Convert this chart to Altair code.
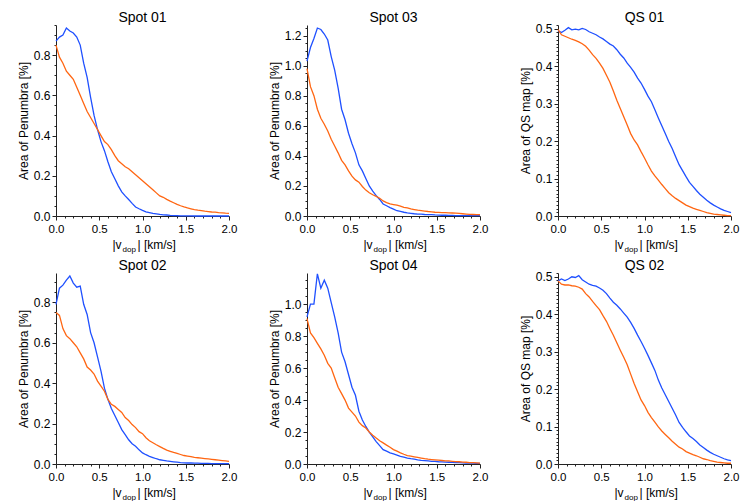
import altair as alt
import pandas as pd

# velocity bins |v_dop| [km/s]
V = [0.00, 0.04, 0.08, 0.12, 0.16, 0.20, 0.24, 0.28, 0.32, 0.36,
     0.40, 0.44, 0.48, 0.52, 0.56, 0.60, 0.64, 0.68, 0.72, 0.76,
     0.80, 0.84, 0.88, 0.92, 0.96, 1.00, 1.04, 1.08, 1.12, 1.16,
     1.20, 1.24, 1.28, 1.32, 1.36, 1.40, 1.44, 1.48, 1.52, 1.56,
     1.60, 1.64, 1.68, 1.72, 1.76, 1.80, 1.84, 1.88, 1.92, 1.96, 2.00]

spot01_blue = [0.87, 0.89, 0.90, 0.935, 0.92, 0.91, 0.89, 0.85, 0.76, 0.69,
               0.59, 0.50, 0.43, 0.37, 0.325, 0.27, 0.22, 0.185, 0.15, 0.12,
               0.10, 0.082, 0.063, 0.045, 0.036, 0.028, 0.021, 0.017, 0.013, 0.011,
               0.008, 0.006, 0.005, 0.003, 0.002, 0.002, 0.001, 0.001, 0.001, 0.001,
               0.0, 0.0, 0.0, 0.0, 0.0, 0.0, 0.0, 0.0, 0.0, 0.0, 0.0]
spot01_orange = [0.85, 0.79, 0.76, 0.72, 0.70, 0.68, 0.64, 0.60, 0.56, 0.52,
                 0.49, 0.46, 0.43, 0.40, 0.37, 0.355, 0.33, 0.30, 0.275, 0.26,
                 0.245, 0.235, 0.22, 0.205, 0.19, 0.175, 0.16, 0.145, 0.13, 0.115,
                 0.10, 0.093, 0.083, 0.074, 0.066, 0.058, 0.051, 0.045, 0.040, 0.036,
                 0.032, 0.029, 0.027, 0.024, 0.022, 0.020, 0.019, 0.017, 0.016, 0.014, 0.013]

spot03_blue = [1.03, 1.12, 1.18, 1.25, 1.24, 1.21, 1.17, 1.06, 0.97, 0.85,
               0.71, 0.64, 0.55, 0.48, 0.42, 0.34, 0.30, 0.25, 0.20, 0.165,
               0.135, 0.11, 0.08, 0.068, 0.056, 0.046, 0.035, 0.030, 0.025, 0.021,
               0.018, 0.015, 0.013, 0.012, 0.010, 0.009, 0.009, 0.007, 0.006, 0.005,
               0.005, 0.004, 0.004, 0.003, 0.003, 0.003, 0.002, 0.002, 0.002, 0.002, 0.002]
spot03_orange = [0.98, 0.86, 0.80, 0.71, 0.65, 0.61, 0.565, 0.51, 0.465, 0.42,
                 0.37, 0.34, 0.30, 0.265, 0.24, 0.225, 0.196, 0.172, 0.155, 0.141,
                 0.13, 0.118, 0.10, 0.089, 0.08, 0.076, 0.072, 0.066, 0.058, 0.054,
                 0.047, 0.043, 0.039, 0.036, 0.033, 0.030, 0.028, 0.025, 0.024, 0.023,
                 0.022, 0.021, 0.020, 0.019, 0.017, 0.015, 0.013, 0.011, 0.010, 0.009, 0.009]

qs01_blue = [0.495, 0.49, 0.496, 0.503, 0.497, 0.499, 0.497, 0.501, 0.498, 0.492,
             0.488, 0.484, 0.478, 0.473, 0.466, 0.459, 0.454, 0.444, 0.432, 0.422,
             0.408, 0.397, 0.384, 0.368, 0.355, 0.338, 0.32, 0.305, 0.284, 0.262,
             0.241, 0.22, 0.199, 0.18, 0.158, 0.137, 0.121, 0.105, 0.09, 0.079,
             0.068, 0.058, 0.05, 0.042, 0.035, 0.029, 0.024, 0.019, 0.015, 0.012, 0.009]
qs01_orange = [0.498, 0.484, 0.48, 0.476, 0.472, 0.469, 0.465, 0.46, 0.453, 0.443,
               0.431, 0.421, 0.408, 0.394, 0.376, 0.357, 0.334, 0.309, 0.287, 0.265,
               0.243, 0.22, 0.203, 0.19, 0.172, 0.155, 0.137, 0.12, 0.107, 0.096,
               0.084, 0.073, 0.062, 0.054, 0.047, 0.041, 0.035, 0.029, 0.025, 0.021,
               0.018, 0.015, 0.012, 0.009, 0.007, 0.005, 0.004, 0.003, 0.002, 0.001, 0.001]

spot02_blue = [0.79, 0.87, 0.885, 0.91, 0.93, 0.895, 0.875, 0.88, 0.79, 0.74,
               0.65, 0.60, 0.53, 0.46, 0.375, 0.32, 0.275, 0.24, 0.205, 0.17,
               0.145, 0.12, 0.10, 0.088, 0.07, 0.055, 0.046, 0.038, 0.032, 0.026,
               0.021, 0.018, 0.015, 0.013, 0.011, 0.009, 0.007, 0.006, 0.005, 0.005,
               0.004, 0.004, 0.003, 0.003, 0.003, 0.002, 0.002, 0.002, 0.002, 0.002, 0.002]
spot02_orange = [0.75, 0.735, 0.67, 0.635, 0.62, 0.60, 0.58, 0.55, 0.52, 0.48,
                 0.465, 0.445, 0.41, 0.385, 0.36, 0.32, 0.295, 0.285, 0.27, 0.255,
                 0.23, 0.215, 0.195, 0.18, 0.16, 0.15, 0.13, 0.115, 0.105, 0.095,
                 0.086, 0.077, 0.069, 0.063, 0.057, 0.052, 0.047, 0.042, 0.039, 0.036,
                 0.033, 0.031, 0.029, 0.027, 0.025, 0.023, 0.021, 0.019, 0.017, 0.015, 0.013]

spot04_blue = [0.92, 1.00, 1.00, 1.19, 1.10, 1.15, 1.10, 1.01, 0.92, 0.82,
               0.70, 0.64, 0.56, 0.48, 0.43, 0.33, 0.275, 0.235, 0.20, 0.17,
               0.14, 0.115, 0.09, 0.08, 0.07, 0.063, 0.056, 0.048, 0.043, 0.037,
               0.033, 0.03, 0.026, 0.023, 0.021, 0.019, 0.017, 0.016, 0.014, 0.013,
               0.012, 0.011, 0.010, 0.009, 0.008, 0.007, 0.006, 0.006, 0.005, 0.004, 0.004]
spot04_orange = [0.91, 0.82, 0.79, 0.755, 0.72, 0.68, 0.63, 0.60, 0.54, 0.48,
                 0.44, 0.40, 0.35, 0.325, 0.30, 0.262, 0.24, 0.225, 0.20, 0.18,
                 0.162, 0.145, 0.132, 0.118, 0.105, 0.09, 0.08, 0.07, 0.061, 0.053,
                 0.049, 0.045, 0.041, 0.037, 0.033, 0.030, 0.028, 0.026, 0.024, 0.022,
                 0.020, 0.019, 0.017, 0.015, 0.014, 0.012, 0.011, 0.009, 0.008, 0.007, 0.006]

qs02_blue = [0.489, 0.494, 0.49, 0.494, 0.50, 0.498, 0.503, 0.492, 0.486, 0.48,
             0.477, 0.475, 0.47, 0.464, 0.455, 0.443, 0.432, 0.424, 0.414, 0.403,
             0.392, 0.378, 0.362, 0.344, 0.327, 0.309, 0.29, 0.27, 0.25, 0.224,
             0.203, 0.185, 0.167, 0.149, 0.131, 0.111, 0.098, 0.086, 0.075, 0.068,
             0.06, 0.051, 0.044, 0.037, 0.031, 0.026, 0.022, 0.018, 0.014, 0.011, 0.009]
qs02_orange = [0.489, 0.48, 0.478, 0.478, 0.476, 0.475, 0.472, 0.467, 0.455, 0.446,
               0.434, 0.423, 0.412, 0.396, 0.381, 0.362, 0.344, 0.324, 0.304, 0.285,
               0.265, 0.24, 0.215, 0.193, 0.171, 0.156, 0.138, 0.124, 0.112, 0.099,
               0.088, 0.079, 0.07, 0.061, 0.053, 0.045, 0.04, 0.033, 0.029, 0.025,
               0.022, 0.018, 0.014, 0.012, 0.009, 0.007, 0.005, 0.004, 0.003, 0.002, 0.002]

X_MAJOR = [0.0, 0.5, 1.0, 1.5, 2.0]
X_MINOR = [0.1, 0.2, 0.3, 0.4, 0.6, 0.7, 0.8, 0.9, 1.1, 1.2, 1.3, 1.4, 1.6, 1.7, 1.8, 1.9]
Y_SPOT_MINOR = [0.05, 0.1, 0.15, 0.25, 0.3, 0.35, 0.45, 0.5, 0.55, 0.65, 0.7, 0.75,
                0.85, 0.9, 0.95, 1.05, 1.1, 1.15, 1.25]
Y_QS_MINOR = [i / 100 for i in range(0, 52) if i % 10 != 0]

BLUE = "#1f50ff"
ORANGE = "#ff6612"
FONT = "Liberation Sans"
W, H = 173, 191


def panel(title, blue, orange, ymax, ymajor, yminor, ytitle):
    df = pd.DataFrame({"v": V + V, "a": blue + orange,
                       "s": ["blue"] * len(V) + ["orange"] * len(V)})
    xs = alt.Scale(domain=[0, 2], nice=False, zero=False)
    ys = alt.Scale(domain=[0, ymax], nice=False, zero=False)
    col = alt.Color("s:N", scale=alt.Scale(domain=["blue", "orange"], range=[BLUE, ORANGE]),
                    legend=None)
    lines = alt.Chart(df).mark_line(interpolate="linear", strokeWidth=1.3).encode(
        x=alt.X("v:Q", scale=xs,
                axis=alt.Axis(values=X_MAJOR, format=".1f", title=None, tickSize=4,
                              labelPadding=3, labelFontSize=11.5, labelFlush=False,
                              orient="bottom")),
        y=alt.Y("a:Q", scale=ys,
                axis=alt.Axis(values=ymajor, format=".1f", title=ytitle, tickSize=4,
                              labelPadding=2, titlePadding=3, labelFlush=False,
                              orient="left")),
        color=col,
    )
    minor = alt.Chart(df).mark_line(strokeOpacity=0).encode(
        x=alt.X("v:Q", scale=xs,
                axis=alt.Axis(values=X_MINOR, labels=False, title=None, domain=False,
                              tickSize=2, orient="bottom")),
        y=alt.Y("a:Q", scale=ys,
                axis=alt.Axis(values=yminor, labels=False, title=None, domain=False,
                              tickSize=2, orient="left")),
    )
    tt = alt.Chart(pd.DataFrame({"t": [title]})).mark_text(
        align="center", baseline="alphabetic", fontSize=14, font=FONT, color="black"
    ).encode(x=alt.value(W / 2), y=alt.value(-3), text="t:N")
    t1 = alt.Chart(pd.DataFrame({"t": ["|v"]})).mark_text(
        align="right", baseline="alphabetic", fontSize=12, font=FONT, color="black"
    ).encode(x=alt.value(W / 2 - 21), y=alt.value(H + 33), text="t:N")
    t2 = alt.Chart(pd.DataFrame({"t": ["dop"]})).mark_text(
        align="left", baseline="alphabetic", fontSize=8, font=FONT, color="black"
    ).encode(x=alt.value(W / 2 - 20), y=alt.value(H + 36), text="t:N")
    t3 = alt.Chart(pd.DataFrame({"t": ["| [km/s]"]})).mark_text(
        align="left", baseline="alphabetic", fontSize=12, font=FONT, color="black"
    ).encode(x=alt.value(W / 2 - 5), y=alt.value(H + 33), text="t:N")
    return alt.layer(minor, lines, tt, t1, t2, t3).resolve_axis(
        x="independent", y="independent"
    ).properties(width=W, height=H)


SPOT_T = "Area of Penumbra [%]"
QS_T = "Area of QS map [%]"

panels = [
    panel("Spot 01", spot01_blue, spot01_orange, 0.95, [0, 0.2, 0.4, 0.6, 0.8], Y_SPOT_MINOR, SPOT_T),
    panel("Spot 03", spot03_blue, spot03_orange, 1.27, [0, 0.2, 0.4, 0.6, 0.8, 1.0, 1.2], Y_SPOT_MINOR, SPOT_T),
    panel("QS 01", qs01_blue, qs01_orange, 0.51, [0, 0.1, 0.2, 0.3, 0.4, 0.5], Y_QS_MINOR, QS_T),
    panel("Spot 02", spot02_blue, spot02_orange, 0.945, [0, 0.2, 0.4, 0.6, 0.8], Y_SPOT_MINOR, SPOT_T),
    panel("Spot 04", spot04_blue, spot04_orange, 1.195, [0, 0.2, 0.4, 0.6, 0.8, 1.0], Y_SPOT_MINOR, SPOT_T),
    panel("QS 02", qs02_blue, qs02_orange, 0.51, [0, 0.1, 0.2, 0.3, 0.4, 0.5], Y_QS_MINOR, QS_T),
]

chart = alt.concat(*panels, columns=3, spacing={"row": 57, "column": 78},
                   bounds="flush").properties(
    padding={"left": 9, "top": 3, "right": 5, "bottom": 0}
).configure_view(stroke=None).configure_axis(
    grid=False, labelFont=FONT, labelFontSize=12, titleFont=FONT, titleFontSize=12,
    titleFontWeight="normal", labelColor="black", titleColor="black",
    domainColor="#222", tickColor="#222"
)

chart.save("out.html", embed_options={"renderer": "svg", "actions": False})
